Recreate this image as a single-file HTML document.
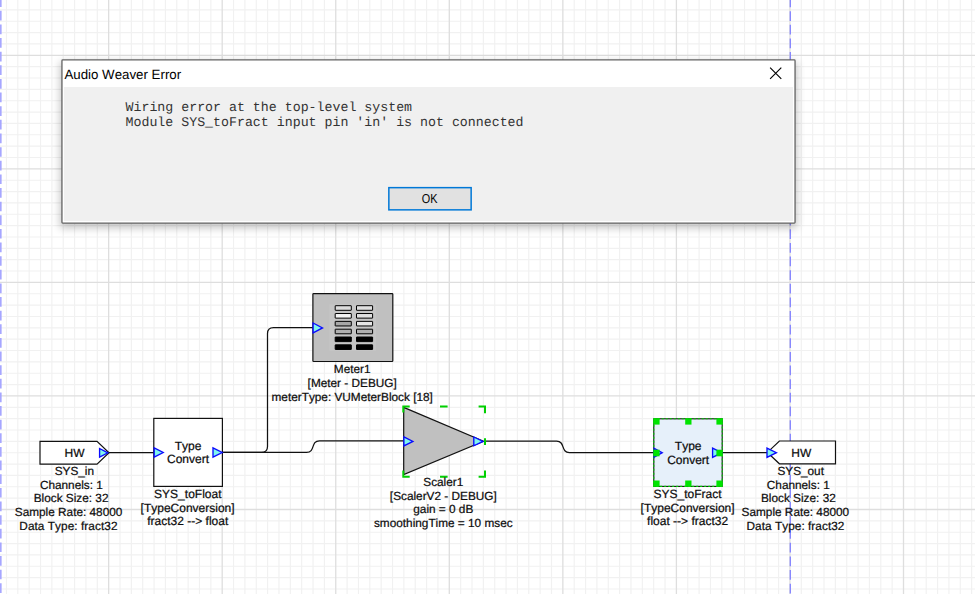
<!DOCTYPE html>
<html><head><meta charset="utf-8"><title>Audio Weaver Error</title>
<style>
html,body{margin:0;padding:0;background:#fff;overflow:hidden}
svg{display:block;font-family:"Liberation Sans",Arial,sans-serif;font-kerning:none;text-rendering:geometricPrecision}
.w{fill:none;stroke:#111;stroke-width:1.25}
.pin{fill:#7ff6ee;stroke:#0a0aff;stroke-width:1.35;stroke-linejoin:miter}
.lab text{fill:#0c0c0c;stroke:#0c0c0c;stroke-width:0.22}
.g{fill:none;stroke:#00d000;stroke-width:2}
.h{fill:#00e400}
.mono{font-family:"Liberation Mono","Courier New",monospace;fill:#333}
</style></head><body>
<svg width="975" height="594" viewBox="0 0 975 594">
<defs>
<filter id="sh" x="-5%" y="-20%" width="110%" height="150%"><feGaussianBlur stdDeviation="4"/></filter>
</defs>
<rect width="975" height="594" fill="#fff"/>
<path d="M6.45 0V594M17.81 0V594M29.16 0V594M40.52 0V594M51.88 0V594M63.23 0V594M74.58 0V594M85.94 0V594M97.29 0V594M120.00 0V594M131.36 0V594M142.71 0V594M154.07 0V594M165.42 0V594M176.78 0V594M188.13 0V594M199.49 0V594M210.85 0V594M233.55 0V594M244.91 0V594M256.26 0V594M267.62 0V594M278.98 0V594M290.33 0V594M301.68 0V594M313.04 0V594M324.39 0V594M347.11 0V594M358.46 0V594M369.81 0V594M381.17 0V594M392.52 0V594M403.88 0V594M415.23 0V594M426.59 0V594M437.94 0V594M460.65 0V594M472.01 0V594M483.37 0V594M494.72 0V594M506.07 0V594M517.43 0V594M528.78 0V594M540.14 0V594M551.50 0V594M574.20 0V594M585.56 0V594M596.91 0V594M608.27 0V594M619.62 0V594M630.98 0V594M642.34 0V594M653.69 0V594M665.04 0V594M687.75 0V594M699.11 0V594M710.47 0V594M721.82 0V594M733.17 0V594M744.53 0V594M755.88 0V594M767.24 0V594M778.60 0V594M801.30 0V594M812.66 0V594M824.01 0V594M835.37 0V594M846.73 0V594M858.08 0V594M869.43 0V594M880.79 0V594M892.14 0V594M914.86 0V594M926.21 0V594M937.57 0V594M948.92 0V594M960.27 0V594M971.63 0V594M0 9.88H975M0 21.23H975M0 32.59H975M0 43.94H975M0 66.65H975M0 78.01H975M0 89.37H975M0 100.72H975M0 112.07H975M0 123.43H975M0 134.78H975M0 146.14H975M0 157.50H975M0 180.20H975M0 191.56H975M0 202.91H975M0 214.27H975M0 225.62H975M0 236.98H975M0 248.33H975M0 259.69H975M0 271.04H975M0 293.75H975M0 305.11H975M0 316.47H975M0 327.82H975M0 339.17H975M0 350.53H975M0 361.88H975M0 373.24H975M0 384.60H975M0 407.31H975M0 418.66H975M0 430.01H975M0 441.37H975M0 452.73H975M0 464.08H975M0 475.44H975M0 486.79H975M0 498.14H975M0 520.86H975M0 532.21H975M0 543.57H975M0 554.92H975M0 566.27H975M0 577.63H975M0 588.99H975" fill="none" stroke="#f1f1f1" stroke-width="1.15"/>
<path d="M108.65 0V594M222.20 0V594M335.75 0V594M449.30 0V594M562.85 0V594M676.40 0V594M789.95 0V594M903.50 0V594M0 55.30H975M0 168.85H975M0 282.40H975M0 395.95H975M0 509.50H975" fill="none" stroke="#dedede" stroke-width="1.3"/>
<line x1="0.75" y1="-2.8" x2="0.75" y2="594" stroke="#a6a6ff" stroke-width="1.75" stroke-dasharray="9.7 3.93"/>
<line x1="790.3" y1="-2.4" x2="790.3" y2="594" stroke="#8484ff" stroke-width="1.3" stroke-dasharray="9.7 3.93"/>

<g id="dialog">
<rect x="60" y="62" width="737" height="166" fill="#000" opacity="0.23" filter="url(#sh)"/>
<rect x="61.95" y="59.95" width="733.1" height="163.1" fill="#fff" stroke="#646464" stroke-width="1.3" rx="0.8"/>
<rect x="64" y="87" width="729" height="134" fill="#f0f0f0"/>
<text x="64.4" y="78.7" font-size="13.3" fill="#000">Audio Weaver Error</text>
<path d="M770.1 67.7L781.3 78.9M781.3 67.7L770.1 78.9" stroke="#000" stroke-width="1.15" fill="none"/>
<text class="mono" x="125.5" y="110.9" font-size="13.27" xml:space="preserve">Wiring error at the top-level system</text>
<text class="mono" x="125.5" y="126.3" font-size="13.27" xml:space="preserve">Module SYS_toFract input pin 'in' is not connected</text>
<rect x="388.85" y="187.65" width="82.3" height="22.2" fill="#e1e1e1" stroke="#0078d7" stroke-width="1.5"/>
<text x="429.6" y="203.2" font-size="13" text-anchor="middle" textLength="15.7" lengthAdjust="spacingAndGlyphs" fill="#000">OK</text>
</g>

<g id="wires">
<path class="w" d="M108 452.7H155"/>
<path class="w" d="M222 452.4H306.6 C315.6 452.4 310.4 440.9 319.4 440.9 H404"/>
<path class="w" d="M222 452.4H261.5 Q267.5 452.4 267.5 446.4 V333.6 Q267.5 327.6 273.5 327.6 H313"/>
<path class="w" d="M484.8 441.2H556.6 C565.6 441.2 560.4 452.5 569.4 452.5 H654"/>
<path class="w" d="M722 452.6H768"/>
</g>

<g id="sysin" class="lab">
<path d="M40 441.4H97L109 452.8L97 464.2H40Z" fill="#fff" stroke="#111" stroke-width="1.2"/>
<path d="M99.6 448.5 L107.8 452.8 L99.6 457.1 Z" class="pin"/>
<text x="74.6" y="457.1" text-anchor="middle" font-size="12" >HW</text>
<text x="54.7" y="475" text-anchor="start" font-size="11.8" >SYS_in</text>
<text x="39.9" y="488.6" text-anchor="start" font-size="11.8" >Channels: 1</text>
<text x="33.7" y="502.2" text-anchor="start" font-size="11.8" >Block Size: 32</text>
<text x="14.8" y="515.9" text-anchor="start" font-size="11.8" >Sample Rate: 48000</text>
<text x="19.3" y="529.5" text-anchor="start" font-size="11.8" textLength="98.2">Data Type: fract32</text>
</g>
<g id="tofloat" class="lab">
<rect x="153.8" y="418.4" width="68.6" height="68" fill="#fff" stroke="#111" stroke-width="1.2"/>
<path d="M154.2 447.9 L163.2 452.5 L154.2 457.1 Z" class="pin"/>
<path d="M213 447.9 L222.2 452.5 L213 457.1 Z" class="pin"/>
<text x="188" y="449.9" text-anchor="middle" font-size="12" >Type</text>
<text x="188" y="463.3" text-anchor="middle" font-size="12" >Convert</text>
<text x="187.8" y="498.4" text-anchor="middle" font-size="12" >SYS_toFloat</text>
<text x="187.6" y="511.9" text-anchor="middle" font-size="12" >[TypeConversion]</text>
<text x="187.8" y="525.3" text-anchor="middle" font-size="12" >fract32 --&gt; float</text>
</g>
<g id="meter" class="lab">
<rect x="312.9" y="293.6" width="79.9" height="67.9" rx="0.7" fill="#c0c0c0" stroke="#111" stroke-width="1.2"/>
<rect x="329.5" y="304.3" width="46.5" height="46.5" fill="#c5c5c5"/>
<rect x="335.20" y="305.70" width="16.1" height="4.6" rx="0.2" fill="#dcdcdc" stroke="#000" stroke-width="1"/>
<rect x="335.20" y="313.53" width="16.1" height="4.6" rx="0.2" fill="#f4f4f4" stroke="#000" stroke-width="1"/>
<rect x="335.20" y="321.36" width="16.1" height="4.6" rx="0.2" fill="#a8a8a8" stroke="#000" stroke-width="1"/>
<rect x="335.20" y="329.19" width="16.1" height="4.6" rx="0.2" fill="#b0b0b0" stroke="#000" stroke-width="1"/>
<rect x="335.20" y="337.02" width="16.1" height="4.6" rx="0.2" fill="#000" stroke="#000" stroke-width="1"/>
<rect x="335.20" y="344.85" width="16.1" height="4.6" rx="0.2" fill="#000" stroke="#000" stroke-width="1"/>
<rect x="356.50" y="305.70" width="16.1" height="4.6" rx="0.2" fill="#e0e0e0" stroke="#000" stroke-width="1"/>
<rect x="356.50" y="313.53" width="16.1" height="4.6" rx="0.2" fill="#e0e0e0" stroke="#000" stroke-width="1"/>
<rect x="356.50" y="321.36" width="16.1" height="4.6" rx="0.2" fill="#e6e6e6" stroke="#000" stroke-width="1"/>
<rect x="356.50" y="329.19" width="16.1" height="4.6" rx="0.2" fill="#b0b0b0" stroke="#000" stroke-width="1"/>
<rect x="356.50" y="337.02" width="16.1" height="4.6" rx="0.2" fill="#000" stroke="#000" stroke-width="1"/>
<rect x="356.50" y="344.85" width="16.1" height="4.6" rx="0.2" fill="#000" stroke="#000" stroke-width="1"/>
<path d="M313.1 323.0 L322.5 327.9 L313.1 332.79999999999995 Z" class="pin"/>
<text x="352.2" y="372.8" text-anchor="middle" font-size="11.8" >Meter1</text>
<text x="352.2" y="386.6" text-anchor="middle" font-size="11.8" >[Meter - DEBUG]</text>
<text x="352.2" y="400.6" text-anchor="middle" font-size="11.8" >meterType: VUMeterBlock [18]</text>
</g>
<g id="scaler" class="lab">
<path d="M403.7 407.4L483.5 441.3L403.7 474.6Z" fill="#c0c0c0" stroke="#111" stroke-width="1.2" stroke-linejoin="miter"/>
<path d="M403.9 436.9 L412.9 441.4 L403.9 445.9 Z" class="pin"/>
<path d="M473.8 437.0 L483.0 441.4 L473.8 445.79999999999995 Z" class="pin"/>
<path class="g" d="M403.3 412.4V406.5H409.7 M440 406.5H447.6 M478.6 406.5H485V413.2 M485 438.2V445 M485 470.5V476.8H478.6 M447.6 476.8H440 M409.7 476.8H403.3V470.5"/>
<text x="443.3" y="486.2" text-anchor="middle" font-size="11.8" >Scaler1</text>
<text x="443.3" y="499.8" text-anchor="middle" font-size="11.8" >[ScalerV2 - DEBUG]</text>
<text x="443.3" y="513.2" text-anchor="middle" font-size="11.8" >gain = 0 dB</text>
<text x="443.3" y="527.1" text-anchor="middle" font-size="11.8" >smoothingTime = 10 msec</text>
</g>
<g id="tofract" class="lab">
<rect x="653.8" y="418.8" width="68.4" height="67.6" fill="#e6f0fa" stroke="#111" stroke-width="1.1"/>
<rect x="653.8" y="418.8" width="68.4" height="67.6" fill="none" stroke="#00d000" stroke-width="1.1" stroke-dasharray="2 2"/>
<path d="M654.2 448.4 L662.2 452.7 L654.2 457.0 Z" class="pin"/>
<path d="M712.6 448.09999999999997 L721.8000000000001 452.7 L712.6 457.3 Z" class="pin"/>
<rect class="h" x="653.3" y="418.3" width="6.3" height="6.3"/>
<rect class="h" x="653.3" y="480.5" width="6.3" height="6.3"/>
<rect class="h" x="685.2" y="418.3" width="6.3" height="6.3"/>
<rect class="h" x="685.2" y="480.5" width="6.3" height="6.3"/>
<rect class="h" x="716.4" y="418.3" width="6.3" height="6.3"/>
<rect class="h" x="716.4" y="480.5" width="6.3" height="6.3"/>
<rect class="h" x="653.3" y="449.7" width="6.3" height="6.6"/>
<rect class="h" x="716.4" y="449.7" width="6.3" height="6.6"/>
<text x="688.2" y="450.4" text-anchor="middle" font-size="12" >Type</text>
<text x="688.2" y="463.8" text-anchor="middle" font-size="12" >Convert</text>
<text x="687.6" y="498.4" text-anchor="middle" font-size="12" >SYS_toFract</text>
<text x="687.6" y="511.9" text-anchor="middle" font-size="12" >[TypeConversion]</text>
<text x="687.6" y="525.3" text-anchor="middle" font-size="12" >float --&gt; fract32</text>
</g>
<g id="sysout" class="lab">
<path d="M835.5 441H779.4L767.4 452.4L779.4 463.8H835.5Z" fill="#fff" stroke="#111" stroke-width="1.2"/>
<path d="M767 448.09999999999997 L776.4 452.7 L767 457.3 Z" class="pin"/>
<text x="801.3" y="457.1" text-anchor="middle" font-size="12" >HW</text>
<text x="777.4" y="475" text-anchor="start" font-size="11.8" >SYS_out</text>
<text x="766.8" y="488.6" text-anchor="start" font-size="11.8" >Channels: 1</text>
<text x="761" y="502.2" text-anchor="start" font-size="11.8" >Block Size: 32</text>
<text x="741.6" y="515.9" text-anchor="start" font-size="11.8" >Sample Rate: 48000</text>
<text x="746.5" y="529.5" text-anchor="start" font-size="11.8" textLength="97.9">Data Type: fract32</text>
</g>
</svg></body></html>
